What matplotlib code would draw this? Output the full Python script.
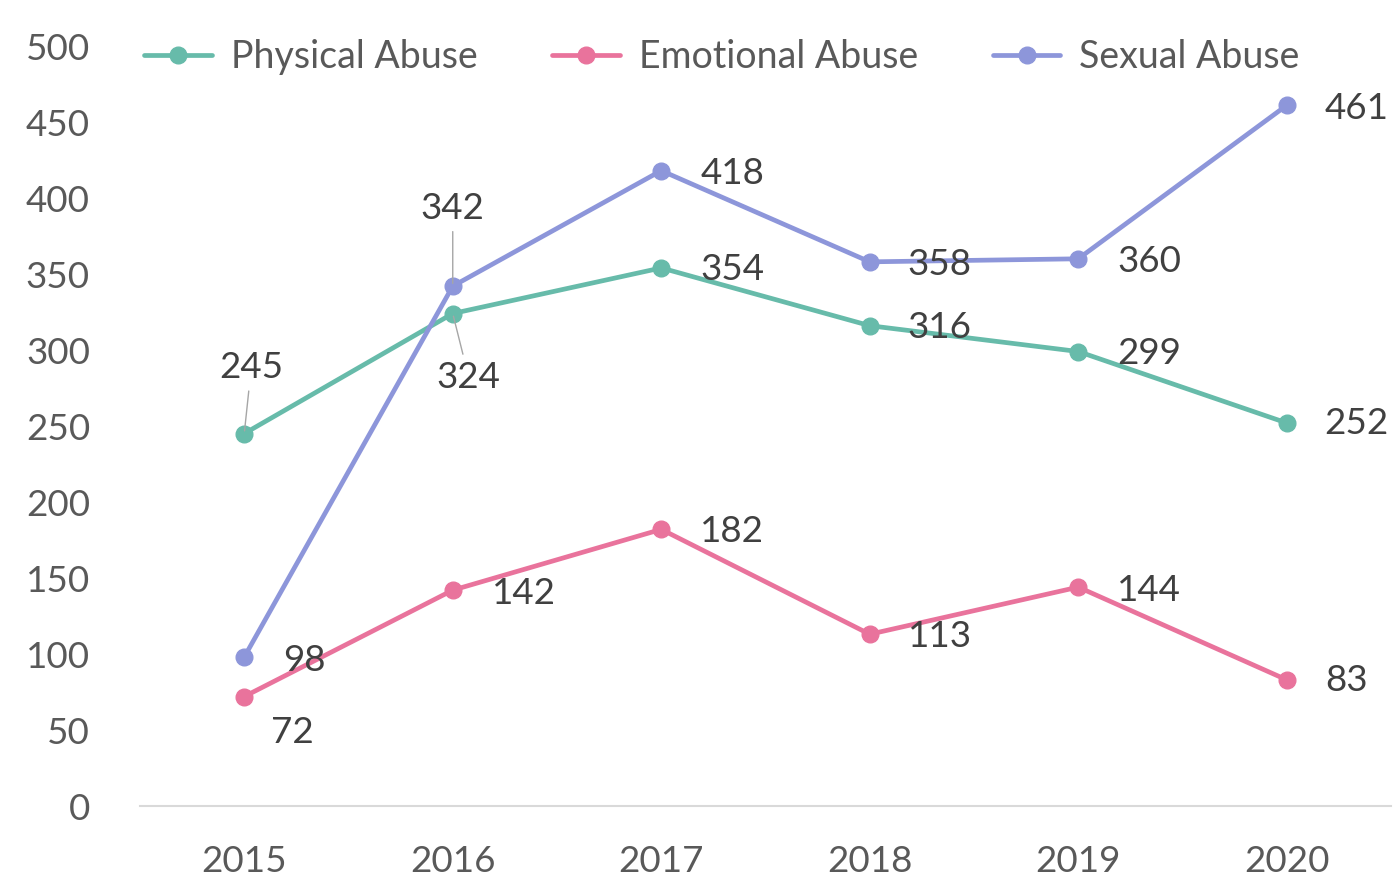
import matplotlib
matplotlib.use("Agg")
import matplotlib.pyplot as plt

years = ["2015", "2016", "2017", "2018", "2019", "2020"]
physical = [245, 324, 354, 316, 299, 252]
emotional = [72, 142, 182, 113, 144, 83]
sexual = [98, 342, 418, 358, 360, 461]
series_names = ["Physical Abuse", "Emotional Abuse", "Sexual Abuse"]
yticks = [0, 50, 100, 150, 200, 250, 300, 350, 400, 450, 500]

colors = ["#67BBAA", "#E9739C", "#8D96DA"]

# label offsets in pixels (dx, dy) and whether a leader line is drawn
offs_phys = [(7, 66, True), (16, -64, True), (71, -2, False), (70, -2, False), (71, -2, False), (70, -1, False)]
offs_emo = [(48, -36, False), (71, -3, False), (71, -2, False), (70, -2, False), (71, -3, False), (60, -1, False)]
offs_sex = [(60, -3, False), (0, 78, True), (71, -3, False), (70, -3, False), (71, -3, False), (70, -3, False)]

plt.rcParams['font.family'] = ['Lato', 'DejaVu Sans']
FS = 26.5

fig = plt.figure(figsize=(13.95, 8.86), dpi=100)
ax = fig.add_axes([140/1395, 80/886, 1251/1395, 760/886])

x = list(range(len(years)))
handles = []
for vals, col, name, offs in zip([physical, emotional, sexual], colors, series_names,
                                 [offs_phys, offs_emo, offs_sex]):
    h, = ax.plot(x, vals, color=col, lw=3.4, marker='o', markersize=12,
                 label=name, solid_capstyle='round', zorder=3)
    handles.append(h)
    for xi, v, (dx, dy, lead) in zip(x, vals, offs):
        kw = {}
        if lead:
            kw['arrowprops'] = dict(arrowstyle='-', color='#A6A6A6', lw=1,
                                    shrinkA=3, shrinkB=2)
        ax.annotate(str(v), xy=(xi, v), xytext=(dx, dy), textcoords='offset pixels',
                    ha='center', va='center', fontsize=FS, color='#404040', zorder=4, **kw)

ax.set_xlim(-0.5, 5.5)
ax.set_ylim(0, 500)
ax.set_xticks(x)
ax.set_xticklabels(years)
ax.set_yticks(yticks)
ax.tick_params(axis='both', length=0, labelsize=FS, labelcolor='#595959')
ax.tick_params(axis='x', pad=28)
ax.tick_params(axis='y', pad=36)
for s in ['top', 'right', 'left']:
    ax.spines[s].set_visible(False)
ax.spines['bottom'].set_color('#D9D9D9')
ax.spines['bottom'].set_linewidth(1.5)
ax.patch.set_alpha(0)

fig.legend(handles=handles, loc='center', bbox_to_anchor=(722/1395, 1 - 57/886), ncol=3,
           frameon=False, fontsize=FS + 0.5, labelcolor='#595959', handlelength=1.8,
           columnspacing=2.0, handletextpad=0.5)

fig.savefig("out.png", dpi=100)
